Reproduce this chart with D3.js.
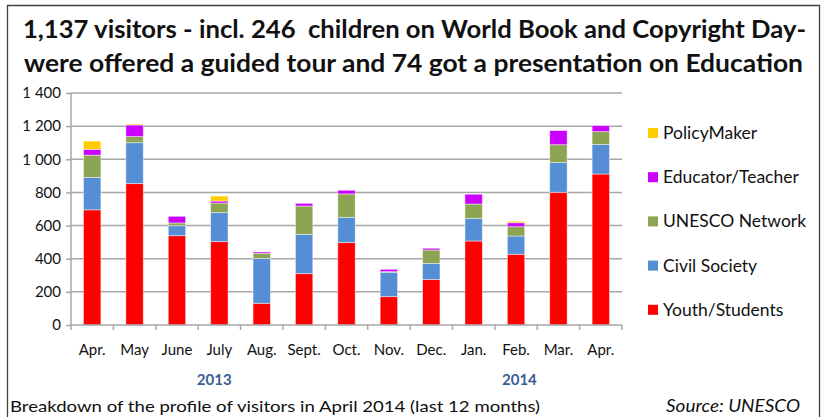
<!DOCTYPE html>
<html>
<head>
<meta charset="utf-8">
<script src="https://cdn.jsdelivr.net/npm/d3@7"></script>
<style>
  body { margin: 0; background: #fff; }
  svg { display: block; font-family: Lato, "Open Sans", sans-serif; }
</style>
</head>
<body>
<div id="chart"></div>
<script>
var months = ['Apr.', 'May', 'June', 'July', 'Aug.', 'Sept.', 'Oct.', 'Nov.', 'Dec.', 'Jan.', 'Feb.', 'Mar.', 'Apr.'];
// year labels sit under these (fractional) month positions
var years = [{label: '2013', at: 2.88}, {label: '2014', at: 10.08}];

var youth    = [695, 853, 539, 503, 131, 310, 497, 171, 274, 507, 427, 801, 911];
var civil    = [195, 247,  60, 175, 271, 237, 153, 147,  98, 137, 110, 179, 179];
var unesco   = [135,  37,  17,  58,  31, 171, 141,   4,  81,  86,  56, 108,  77];
var educator = [ 35,  70,  40,  12,   8,  16,  22,  14,  10,  59,  24,  85,  36];
var policy   = [ 50,   6,   0,  30,   0,   0,   0,   0,   0,   0,   9,   0,   0];

var seriesNames = ['Youth/Students', 'Civil Society', 'UNESCO Network', 'Educator/Teacher', 'PolicyMaker'];
var seriesColors = ['#ff0000', '#558ed5', '#8da552', '#cc00ff', '#ffcc00'];
var yTicks = [0, 200, 400, 600, 800, 1000, 1200, 1400];

var title1 = '1,137 visitors - incl. 246  children on World Book and Copyright Day-';
var title2 = 'were offered a guided tour and 74 got a presentation on Education';
var footer = 'Breakdown of the profile of visitors in April 2014 (last 12 months)';
var source = 'Source: UNESCO';

var W = 825, H = 417;
var m = {l: 71, r: 203, t: 93, b: 92};

var svg = d3.select('#chart').append('svg')
    .attr('width', W).attr('height', H);

// outer frame (open at the bottom)
svg.append('path')
    .attr('d', 'M7.5,' + H + 'V5.5H819.5V' + H)
    .attr('fill', 'none').attr('stroke', '#404040').attr('stroke-width', 1.3);

// titles
svg.append('text').text(title1)
    .attr('x', 23).attr('y', 38)
    .style('white-space', 'pre')
    .attr('textLength', 783).attr('lengthAdjust', 'spacingAndGlyphs')
    .attr('font-size', 25).attr('font-weight', 'bold').attr('fill', '#111');
svg.append('text').text(title2)
    .attr('x', 24).attr('y', 72)
    .attr('textLength', 779).attr('lengthAdjust', 'spacingAndGlyphs')
    .attr('font-size', 25).attr('font-weight', 'bold').attr('fill', '#111');

var data = months.map(function(d, i) {
    return {i: i, youth: youth[i], civil: civil[i], unesco: unesco[i], educator: educator[i], policy: policy[i]};
});
var keys = ['youth', 'civil', 'unesco', 'educator', 'policy'];
var stacked = d3.stack().keys(keys)(data);

var x = d3.scaleBand().domain(d3.range(months.length))
    .range([m.l, W - m.r]).paddingInner(0.59).paddingOuter(0.295);
var xb = d3.scaleBand().domain(d3.range(months.length)).range([m.l, W - m.r]);
var y = d3.scaleLinear().domain([0, 1400]).range([H - m.b, m.t]);

// gridlines
svg.append('g').selectAll('line').data(yTicks.slice(1)).enter()
    .append('line')
    .attr('x1', m.l).attr('x2', W - m.r)
    .attr('y1', function(d) { return y(d); }).attr('y2', function(d) { return y(d); })
    .attr('stroke', '#a6a6a6').attr('stroke-width', 1.5);

// y axis
var yAxis = svg.append('g')
    .attr('transform', 'translate(' + m.l + ',0)')
    .call(d3.axisLeft(y).tickValues(yTicks).tickSize(5).tickPadding(5)
        .tickFormat(function(d) { return d3.format(',')(d).replace(',', ' '); }));
yAxis.select('.domain').attr('stroke', '#a6a6a6').attr('stroke-width', 1.5).attr('d', 'M0,' + y(1400) + 'V' + y(0));
yAxis.selectAll('.tick line').attr('stroke', '#a6a6a6').attr('stroke-width', 1.5);
yAxis.selectAll('.tick text').attr('font-family', 'Lato, "Open Sans", sans-serif').attr('font-size', 15).attr('fill', '#111');

// bars
svg.append('g').selectAll('g').data(stacked).enter()
    .append('g')
    .attr('fill', function(d, i) { return seriesColors[i]; })
    .selectAll('rect').data(function(d) { return d; }).enter()
    .append('rect')
    .attr('x', function(d) { return x(d.data.i); })
    .attr('width', x.bandwidth())
    .attr('y', function(d) { return y(d[1]); })
    .attr('height', function(d) { return y(d[0]) - y(d[1]); })
    .attr('stroke', function(d) { return (d[1] - d[0]) > 0 ? '#fff' : 'none'; })
    .attr('stroke-opacity', 0.55)
    .attr('stroke-width', 0.8);

// x axis
var base = y(0);
svg.append('line')
    .attr('x1', m.l).attr('x2', W - m.r).attr('y1', base).attr('y2', base)
    .attr('stroke', '#a6a6a6').attr('stroke-width', 1.5);
svg.append('g').selectAll('line').data(d3.range(months.length + 1)).enter()
    .append('line')
    .attr('x1', function(d) { return m.l + d * xb.step(); })
    .attr('x2', function(d) { return m.l + d * xb.step(); })
    .attr('y1', base).attr('y2', base + 5)
    .attr('stroke', '#a6a6a6').attr('stroke-width', 1.5);
svg.append('g').selectAll('text').data(months).enter()
    .append('text').text(function(d) { return d; })
    .attr('x', function(d, i) { return xb(i) + xb.bandwidth() / 2; })
    .attr('y', 355)
    .attr('text-anchor', 'middle').attr('font-size', 15).attr('fill', '#111');

// year labels
svg.append('g').selectAll('text').data(years).enter()
    .append('text').text(function(d) { return d.label; })
    .attr('x', function(d) { return m.l + (d.at + 0.5) * xb.step(); })
    .attr('y', 385)
    .attr('text-anchor', 'middle').attr('font-size', 15).attr('font-weight', 'bold')
    .attr('fill', '#376092');

// legend, PolicyMaker on top
var legend = svg.append('g').selectAll('g').data(d3.range(seriesNames.length).reverse()).enter()
    .append('g')
    .attr('transform', function(d, j) { return 'translate(648,' + (133 + j * 44.2) + ')'; });
legend.append('rect')
    .attr('x', 0).attr('y', -5).attr('width', 10).attr('height', 10)
    .attr('fill', function(d) { return seriesColors[d]; });
legend.append('text').text(function(d) { return seriesNames[d]; })
    .attr('x', 15).attr('y', 6)
    .attr('font-size', 17.5).attr('fill', '#111');

// footer
svg.append('text').text(footer)
    .attr('x', 10).attr('y', 412)
    .attr('textLength', 530).attr('lengthAdjust', 'spacingAndGlyphs')
    .attr('font-size', 16).attr('fill', '#111');
svg.append('text').text(source)
    .attr('x', 800).attr('y', 412)
    .attr('text-anchor', 'end').attr('font-style', 'italic')
    .attr('textLength', 134).attr('lengthAdjust', 'spacingAndGlyphs')
    .attr('font-size', 17).attr('fill', '#111');
</script>
</body>
</html>
